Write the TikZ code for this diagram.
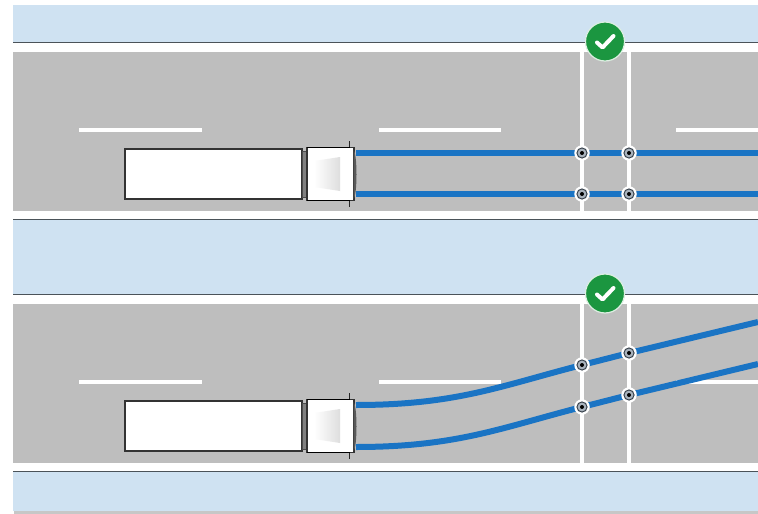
\documentclass[tikz,border=0pt]{standalone}
\begin{document}
\definecolor{sky}{HTML}{CFE2F2}
\definecolor{asphalt}{HTML}{BEBEBE}
\definecolor{edgeline}{HTML}{4B5359}
\definecolor{laneblue}{HTML}{1A74C4}
\definecolor{okgreen}{HTML}{1B9640}
\definecolor{ringdark}{HTML}{38424C}
\definecolor{ringfill}{HTML}{A9B3BD}
\begin{tikzpicture}[x=1pt,y=-1pt,
  marking/.style={white, line width=4pt},
  stopline/.style={white, line width=4.5pt},
  truckline/.style={draw=black!80, line width=1.1pt},
  track/.style={laneblue, line width=6pt},
  sensor/.style={circle, fill=white, minimum size=15.5pt, inner sep=0pt,
    path picture={
      \fill[ringdark] (path picture bounding box.center) circle (5.6pt);
      \fill[ringfill] (path picture bounding box.center) circle (4.4pt);
      \fill[black] (path picture bounding box.center) circle (2pt);}},
  badge/.style={circle, fill=okgreen, draw=white!85!okgreen, line width=1.2pt,
    minimum size=39pt, inner sep=0pt},
  tick/.style={white, line width=4pt, line cap=round, line join=round}]

\useasboundingbox (0,0) rectangle (758,514);
\fill[white] (0,0) rectangle (758,514);
\fill[black!22] (14,510) rectangle (758,513.5);
\fill[sky] (13,5) rectangle (758,511);

% one road section with its lane markings, stop lines and the lorry
\newcommand\roadpanel{%
  \fill[white] (13,43) rectangle (758,219);
  \fill[asphalt] (13,52) rectangle (758,211);
  \draw[edgeline, line width=1.2pt] (13,42.5) -- (758,42.5);
  \draw[edgeline, line width=1.2pt] (13,219.5) -- (758,219.5);
  \draw[marking] (79,130) -- (202,130);
  \draw[marking] (379,130) -- (501,130);
  \draw[marking] (676,130) -- (758,130);
  \draw[stopline] (582,43) -- (582,219);
  \draw[stopline] (629,43) -- (629,219);
  % lorry: trailer, coupling, cab
  \draw[truckline, fill=white] (125,149) rectangle (302,199);
  \draw[draw=black!70, fill=black!50, line width=0.6pt] (302,151) rectangle (307,197);
  \draw[black!85, line width=1pt] (349,141) -- (349,207);
  \draw[truckline, fill=white] (307,147.5) rectangle (354,200.5);
  \draw[black, line width=1.6pt] (307,147.5) -- (350,147.5);
  \draw[black, line width=1.6pt] (307,200.5) -- (350,200.5);
  \shade[left color=white, right color=black!13] (314,161) -- (340,157) -- (340,191) -- (314,187) -- cycle;
  \fill[black!65] (353.5,150) .. controls (357.5,154) and (357.5,195) .. (353.5,199) -- cycle;
}

% straight approach
\roadpanel
\coordinate (a1) at (356,153);
\coordinate (b1) at (356,194);
\coordinate (ae) at (758,153);
\coordinate (be) at (758,194);
\coordinate (pa1) at (582,153);
\coordinate (pa2) at (629,153);
\coordinate (pb1) at (582,194);
\coordinate (pb2) at (629,194);
\draw[track] (a1) -- (ae);
\draw[track] (b1) -- (be);
\node[sensor] (sa1) at (pa1) {};
\node[sensor] (sa2) at (pa2) {};
\node[sensor] (sb1) at (pb1) {};
\node[sensor] (sb2) at (pb2) {};
\node[badge] (ok1) at (605,41.5) {};
\draw[tick, shift={(ok1.center)}] (-8,1) -- (-2.5,6) -- (8.5,-5.5);

% approach with a lane change
\begin{scope}[yshift=-252pt]
  \roadpanel
\end{scope}
\coordinate (c1) at (356,405);
\coordinate (d1) at (356,447);
\coordinate (ce) at (758,322);
\coordinate (de) at (758,364);
\coordinate (pc1) at (582,365);
\coordinate (pc2) at (629,353);
\coordinate (pd1) at (582,407);
\coordinate (pd2) at (629,395);
\draw[track] (c1) .. controls (457,405) and (502,385.4) .. (pc1) -- (pc2) -- (ce);
\draw[track] (d1) .. controls (457,447) and (502,427.4) .. (pd1) -- (pd2) -- (de);
\node[sensor] (sc1) at (pc1) {};
\node[sensor] (sc2) at (pc2) {};
\node[sensor] (sd1) at (pd1) {};
\node[sensor] (sd2) at (pd2) {};
\node[badge] (ok2) at (605,293.5) {};
\draw[tick, shift={(ok2.center)}] (-8,1) -- (-2.5,6) -- (8.5,-5.5);
\end{tikzpicture}
\end{document}
